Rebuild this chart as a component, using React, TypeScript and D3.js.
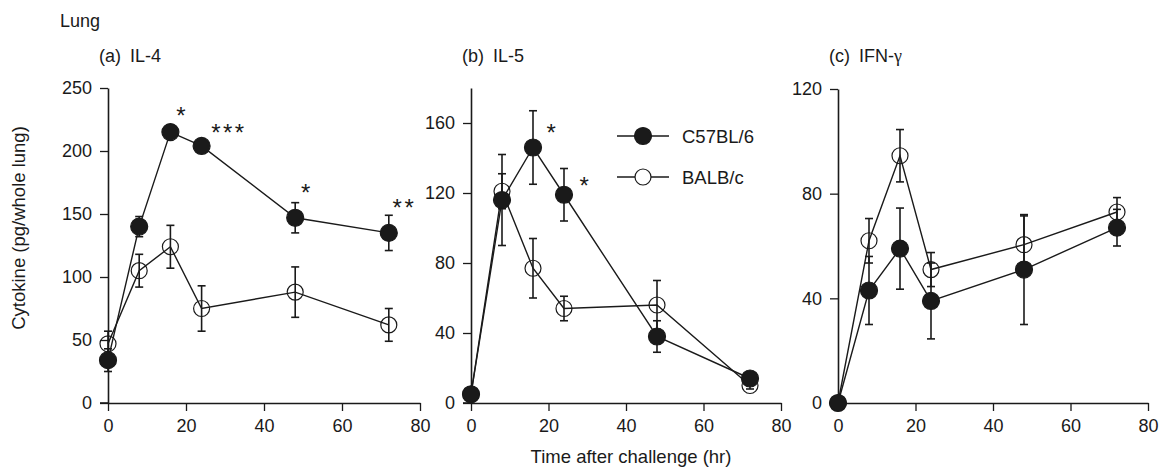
import React, { useEffect, useRef } from 'react';
import * as d3 from 'd3';

// sampling times (hr after challenge)
const times = [0, 8, 16, 24, 48, 72];

// (a) IL-4
const il4C57 = [34, 140, 215, 204, 147, 135];
const il4C57Err = [9, 8, 4, 2, 12, 14];
const il4Balb = [47, 105, 124, 75, 88, 62];
const il4BalbErr = [10, 13, 17, 18, 20, 13];

// (b) IL-5
const il5C57 = [5, 116, 146, 119, 38, 14];
const il5C57Err = [2, 26, 21, 15, 9, 3];
const il5Balb = [5, 121, 77, 54, 56, 10];
const il5BalbErr = [2, 10, 17, 7, 14, 2];

// (c) IFN-gamma
const ifnC57 = [0, 43, 59, 39, 51, 67];
const ifnC57Err = [0, 13, 15.5, 14.5, 21, 7];
const ifnBalb = [0, 62, 94.5, 51, 60.5, 73];
const ifnBalbErr = [0, 8.5, 10, 6.5, 11, 5.5];

const xTicks = [0, 20, 40, 60, 80];
const il4Ticks = [0, 50, 100, 150, 200, 250];
const il5Ticks = [0, 40, 80, 120, 160];
const ifnTicks = [0, 40, 80, 120];

// significance marks: [time, value] where the label sits
const il4Stars = [
  { t: 19, v: 232, label: '*' },
  { t: 31, v: 218, label: '***' },
  { t: 51, v: 171, label: '*' },
  { t: 76, v: 159, label: '**' },
];
const il5Stars = [
  { t: 21, v: 157, label: '*' },
  { t: 29.5, v: 127, label: '*' },
];

const seriesNames = ['C57BL/6', 'BALB/c'];

const FONT = 'Liberation Sans, Arial, Helvetica, sans-serif';

const panels = [
  {
    letter: '(a)', name: 'IL-4', yMax: 250, ticks: il4Ticks,
    c57: il4C57, c57Err: il4C57Err, balb: il4Balb, balbErr: il4BalbErr, stars: il4Stars,
    left: 108, right: 420, top: 88, bottom: 403,
  },
  {
    letter: '(b)', name: 'IL-5', yMax: 180, ticks: il5Ticks,
    c57: il5C57, c57Err: il5C57Err, balb: il5Balb, balbErr: il5BalbErr, stars: il5Stars,
    left: 471, right: 781, top: 88, bottom: 403,
  },
  {
    letter: '(c)', name: 'IFN-', yMax: 120, ticks: ifnTicks,
    c57: ifnC57, c57Err: ifnC57Err, balb: ifnBalb, balbErr: ifnBalbErr, stars: [],
    left: 838, right: 1148, top: 89, bottom: 403,
  },
];

const App = () => {
  const ref = useRef<SVGSVGElement>(null);

  useEffect(() => {
    const svg = d3.select(ref.current);
    svg.selectAll('*').remove();
    const ink = '#1a1a1a';

    svg.append('text').attr('x', 60).attr('y', 27).attr('font-size', 18)
      .attr('font-family', FONT).attr('fill', ink).text('Lung');

    svg.append('text')
      .attr('transform', 'translate(25,228) rotate(-90)')
      .attr('text-anchor', 'middle').attr('font-size', 18.5)
      .attr('font-family', FONT).attr('fill', ink)
      .text('Cytokine (pg/whole lung)');

    svg.append('text').attr('x', 631).attr('y', 463).attr('text-anchor', 'middle')
      .attr('font-size', 18.5).attr('font-family', FONT).attr('fill', ink)
      .text('Time after challenge (hr)');

    panels.forEach((p) => {
      const x = d3.scaleLinear().domain([0, 80]).range([p.left, p.right]);
      const y = d3.scaleLinear().domain([0, p.yMax]).range([p.bottom, p.top]);
      const g = svg.append('g');

      // title
      const title = g.append('text').attr('x', p.left - 9).attr('y', 62)
        .attr('font-size', 18).attr('font-family', FONT).attr('fill', ink);
      title.append('tspan').text(p.letter);
      title.append('tspan').attr('dx', 9).text(p.name);
      if (p.letter === '(c)') {
        title.append('tspan').attr('font-family', 'Liberation Serif, serif').text('γ');
      }

      // axes
      const xAxis = g.append('g').attr('transform', `translate(0,${p.bottom})`)
        .call(d3.axisBottom(x).tickValues(xTicks).tickSize(8).tickPadding(8).tickSizeOuter(0));
      const yAxis = g.append('g').attr('transform', `translate(${p.left},0)`)
        .call(d3.axisLeft(y).tickValues(p.ticks).tickSize(8).tickPadding(8).tickSizeOuter(0));
      [xAxis, yAxis].forEach((ax) => {
        ax.select('.domain').attr('stroke', ink).attr('stroke-width', 1.6);
        ax.selectAll('.tick line').attr('stroke', ink).attr('stroke-width', 1.3);
        ax.selectAll('.tick text').attr('font-size', 18).attr('font-family', FONT).attr('fill', ink);
      });
      // x axis begins at the 0 tick of the y axis
      g.append('line').attr('x1', p.left - 8).attr('x2', p.left)
        .attr('y1', p.bottom).attr('y2', p.bottom).attr('stroke', ink).attr('stroke-width', 1.6);

      const series = [
        { vals: p.balb, err: p.balbErr, filled: false },
        { vals: p.c57, err: p.c57Err, filled: true },
      ];
      const line = d3.line<number>().x((_, i) => x(times[i])).y((d) => y(d));

      series.forEach((s) => {
        g.append('path').datum(s.vals).attr('d', line)
          .attr('fill', 'none').attr('stroke', ink).attr('stroke-width', 1.4);

        const eb = g.append('g');
        s.vals.forEach((v, i) => {
          if (!s.err[i]) return;
          const cx = x(times[i]);
          const hi = y(v + s.err[i]);
          const lo = y(Math.max(0, v - s.err[i]));
          eb.append('line').attr('x1', cx).attr('x2', cx).attr('y1', hi).attr('y2', lo)
            .attr('stroke', ink).attr('stroke-width', 1.6);
          [hi, lo].forEach((yy) => {
            eb.append('line').attr('x1', cx - 4).attr('x2', cx + 4).attr('y1', yy).attr('y2', yy)
              .attr('stroke', ink).attr('stroke-width', 1.6);
          });
        });

        g.selectAll(null).data(s.vals).enter().append('circle')
          .attr('cx', (_, i) => x(times[i])).attr('cy', (d) => y(d))
          .attr('r', s.filled ? 8.5 : 8)
          .attr('fill', s.filled ? ink : 'none')
          .attr('stroke', ink).attr('stroke-width', 1.2);
      });

      p.stars.forEach((st) => {
        g.append('text').attr('x', x(st.t)).attr('y', y(st.v) + 13)
          .attr('text-anchor', 'middle').attr('font-size', 24)
          .attr('font-family', FONT).attr('fill', ink).attr('letter-spacing', 2.5)
          .text(st.label);
      });
    });

    // legend inside panel (b)
    const legend = svg.append('g').attr('transform', 'translate(617,136)');
    seriesNames.forEach((name, i) => {
      const row = legend.append('g').attr('transform', `translate(0,${i * 41})`);
      row.append('line').attr('x1', 0).attr('x2', 52).attr('stroke', ink).attr('stroke-width', 1.4);
      row.append('circle').attr('cx', 26).attr('r', i === 0 ? 8.5 : 8)
        .attr('fill', i === 0 ? ink : 'white').attr('stroke', ink).attr('stroke-width', 1.2);
      row.append('text').attr('x', 65).attr('y', 7).attr('font-size', 18.5)
        .attr('font-family', FONT).attr('fill', ink).text(name);
    });
  }, []);

  return (
    <svg ref={ref} width={1166} height={471}
      style={{ position: 'absolute', left: 0, top: 0, background: 'white' }} />
  );
};

export default App;
